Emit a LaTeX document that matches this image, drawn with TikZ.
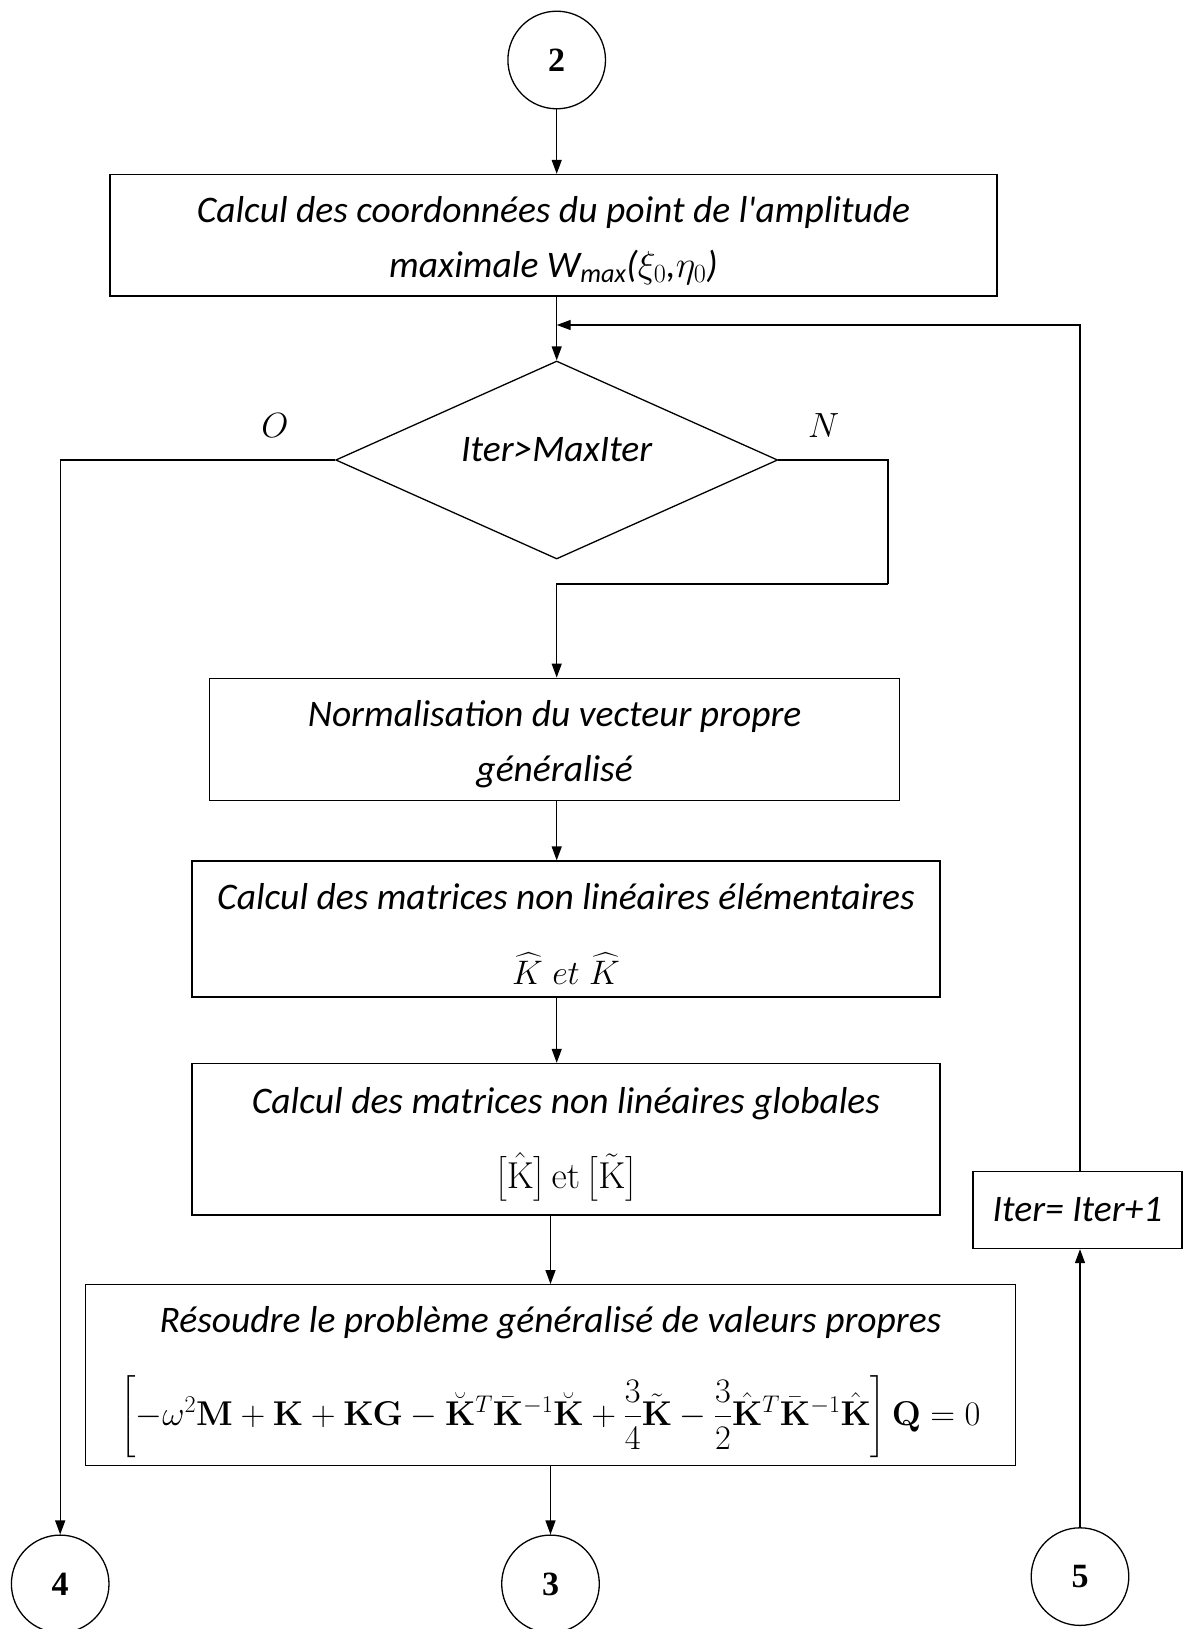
\RequirePackage{fix-cm}
\documentclass[tikz,border=0pt]{standalone}
\usepackage{amsmath}
\usepackage[no-math]{fontspec}
\setmainfont{Carlito}
\newfontfamily\numfont{Liberation Serif}
\usetikzlibrary{arrows.meta,shapes.geometric}
\newcommand{\tstrut}{\rule{0pt}{36pt}}
\tikzset{
  arr/.style={line width=1.3pt,-{Triangle[length=14pt,width=10pt]}},
  ln/.style={line width=1.3pt},
  pbox/.style={draw,line width=1.3pt,rectangle,align=center,inner sep=0pt,
    font=\itshape\fontsize{37.5}{55}\selectfont},
  conn/.style={draw,line width=1.3pt,circle,minimum size=97.6pt,inner sep=0pt,
    font=\numfont\bfseries\fontsize{34}{40}\selectfont},
  dec/.style={draw,line width=1.3pt,diamond,minimum width=442pt,minimum height=198pt,inner sep=0pt},
  lbl/.style={font=\fontsize{35}{40}\selectfont}
}
\begin{document}
\begin{tikzpicture}[x=1pt,y=-1pt]
\useasboundingbox (0,0) rectangle (1184,1629);
\node[conn] (c2) at (556.7,60) {2};
\node[pbox,minimum width=887pt,minimum height=121.5pt] (b1) at (553.5,235.25)
  {\tstrut Calcul des coordonnées du point de l\textquotesingle amplitude\\maximale W\textsubscript{max}($\xi_0$,$\eta_0$)};
\node[dec] (dia) at (556.7,460) {};
\node[pbox,draw=none] (dt) at (556.7,450) {Iter>MaxIter};
\node[lbl] (lo) at (275,426) {$O$};
\node[lbl] (ln) at (823.6,426) {$N$};
\node[pbox,minimum width=689.6pt,minimum height=122.6pt] (b2) at (554.6,739.5)
  {\tstrut Normalisation du vecteur propre\\généralisé};
\node[pbox,minimum width=748pt,minimum height=136pt] (b3) at (566,929)
  {\tstrut Calcul des matrices non linéaires élémentaires\\[20pt]{\fontsize{34}{40}\selectfont$\widehat{K}\;et\;\widehat{K}$}};
\node[pbox,minimum width=748pt,minimum height=151.5pt] (b4) at (566,1139.25)
  {\tstrut Calcul des matrices non linéaires globales\\[20pt]$\big[\hat{\mathrm{K}}\big]\,\mathrm{et}\,\big[\tilde{\mathrm{K}}\big]$};
\node[pbox,minimum width=930.5pt,minimum height=180.8pt] (b5) at (550.5,1375.1)
  {\rule{0pt}{40pt}Résoudre le problème généralisé de valeurs propres\\[36pt]
   \resizebox{860pt}{!}{$\left[-\omega^2\mathbf{M}+\mathbf{K}+\mathbf{KG}-\breve{\mathbf{K}}^T\bar{\mathbf{K}}^{-1}\breve{\mathbf{K}}+\dfrac{3}{4}\tilde{\mathbf{K}}-\dfrac{3}{2}\hat{\mathbf{K}}^T\bar{\mathbf{K}}^{-1}\hat{\mathbf{K}}\right]\mathbf{Q}=0$}};
\node[pbox,minimum width=209pt,minimum height=77pt] (it) at (1077.5,1210) {Iter= Iter+1};
\node[conn] (c4) at (60.2,1583.9) {4};
\node[conn] (c3) at (550.5,1583.9) {3};
\node[conn] (c5) at (1080,1576.6) {5};
\coordinate (fb) at (556.7,325);
\coordinate (nr) at (888,584);
% connectors
\draw[arr] (c2.south) -- (c2.south |- b1.north);
\draw[arr] (b1.south -| dia.north) -- (dia.north);
\draw[arr] (it.north -| c5) -- (fb -| c5) -- (fb);
\draw[arr] (dia.west) -| (c4.north);
\draw[ln] (dia.east) -| (nr);
\draw[arr] (nr) -- (nr -| dia) -- (b2.north -| dia);
\draw[arr] (b2.south -| dia) -- (b3.north -| dia);
\draw[arr] (b3.south -| dia) -- (b4.north -| dia);
\draw[arr] (b4.south -| c3) -- (b5.north -| c3);
\draw[arr] (b5.south -| c3) -- (c3.north);
\draw[arr] (c5.north) -- (it.south -| c5);
\end{tikzpicture}
\end{document}
